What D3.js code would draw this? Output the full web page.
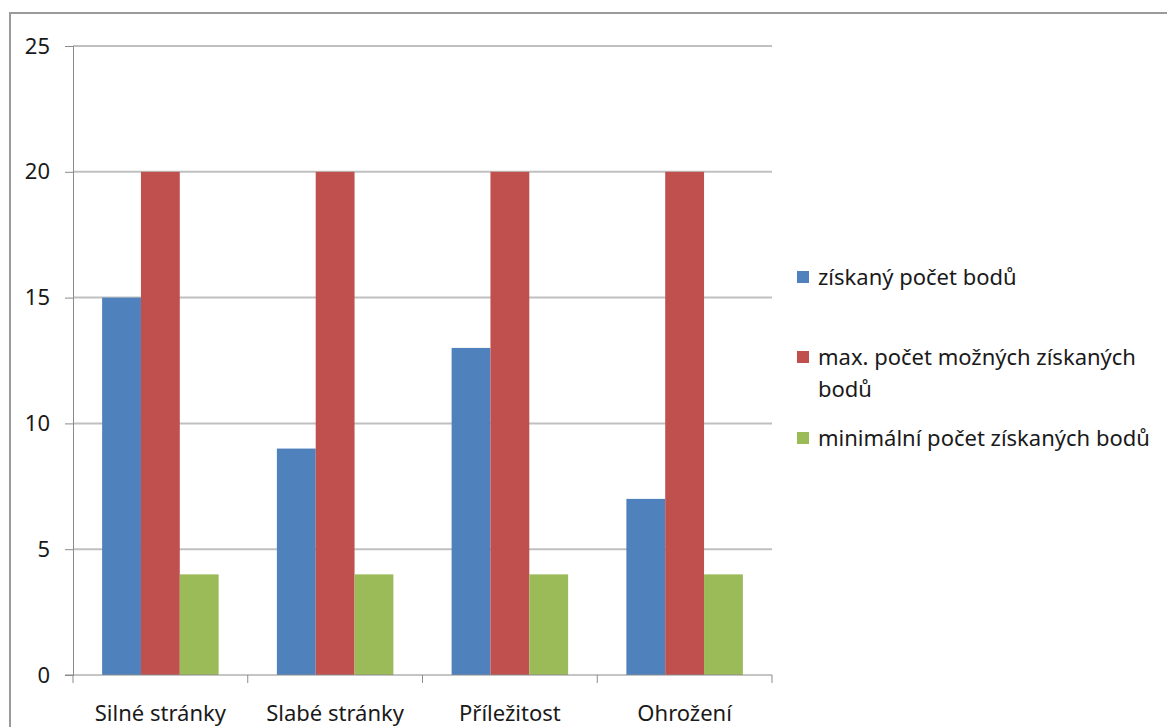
<!DOCTYPE html>
<html lang="cs">
<head>
<meta charset="utf-8">
<script src="https://cdn.jsdelivr.net/npm/d3@7"></script>
<style>
  html, body { margin: 0; padding: 0; background: #fff; }
  svg { display: block; }
  text { font-family: "Noto Sans", "Open Sans", sans-serif; fill: #1a1a1a; }
</style>
</head>
<body>
<svg id="chart" width="1167" height="727"></svg>
<script>
// Kategorie SWOT analýzy
const categories = ["Silné stránky", "Slabé stránky", "Příležitost", "Ohrožení"];

// Hodnoty jednotlivých řad
const ziskanyPocet = [15, 9, 13, 7];
const maxPocet = [20, 20, 20, 20];
const minPocet = [4, 4, 4, 4];

const seriesNames = [
  "získaný počet bodů",
  "max. počet možných získaných bodů",
  "minimální počet získaných bodů"
];
// Zalomení delšího popisku legendy do řádků
const legendLines = [
  ["získaný počet bodů"],
  ["max. počet možných získaných", "bodů"],
  ["minimální počet získaných bodů"]
];
const seriesColors = ["#4F81BD", "#C0504D", "#9BBB59"];
const yTicks = [0, 5, 10, 15, 20, 25];

const series = [ziskanyPocet, maxPocet, minPocet];

const svg = d3.select("#chart");

// Rámeček celého grafu
svg.append("rect")
  .attr("x", 10).attr("y", 13)
  .attr("width", 1300).attr("height", 900)
  .attr("fill", "#fff")
  .attr("stroke", "#9a9a9a")
  .attr("stroke-width", 2);

const plot = { left: 73, right: 772, top: 46, bottom: 675 };

const x0 = d3.scaleBand()
  .domain(categories)
  .range([plot.left, plot.right])
  .paddingInner(0)
  .paddingOuter(0);

// Excel-like gap width 150 %: bars fill 3 / 4.5 of each category
const x1 = d3.scaleBand()
  .domain(d3.range(series.length))
  .range([0, x0.bandwidth()])
  .paddingInner(0)
  .paddingOuter(0.75);

const y = d3.scaleLinear()
  .domain([0, 25])
  .range([plot.bottom, plot.top]);

// Vodorovné mřížky
svg.append("g")
  .selectAll("line")
  .data(yTicks.filter(d => d > 0))
  .join("line")
  .attr("x1", plot.left).attr("x2", plot.right)
  .attr("y1", d => y(d)).attr("y2", d => y(d))
  .attr("stroke", "#c0c0c0")
  .attr("stroke-width", 2);

// Osa Y
const yAxis = svg.append("g")
  .attr("transform", `translate(${plot.left},0)`)
  .call(d3.axisLeft(y).tickValues(yTicks).tickSize(8).tickPadding(15).tickFormat(d3.format("d")));
yAxis.select(".domain").attr("stroke", "#8a8a8a");
yAxis.selectAll(".tick line").attr("stroke", "#8a8a8a");
yAxis.selectAll(".tick text")
  .attr("font-size", 22)
  .attr("font-family", "\"Noto Sans\", sans-serif")
  .attr("fill", "#1a1a1a");

// Sloupce
const groups = svg.append("g")
  .selectAll("g")
  .data(categories)
  .join("g")
  .attr("transform", d => `translate(${x0(d)},0)`);

groups.selectAll("rect")
  .data((c, i) => series.map((s, k) => ({ k, v: s[i] })))
  .join("rect")
  .attr("x", d => x1(d.k))
  .attr("width", x1.bandwidth())
  .attr("y", d => y(d.v))
  .attr("height", d => y(0) - y(d.v))
  .attr("fill", d => seriesColors[d.k]);

// Osa X
const xAxis = svg.append("g")
  .attr("transform", `translate(0,${plot.bottom})`)
  .call(d3.axisBottom(x0).tickSize(0).tickPadding(30));
xAxis.select(".domain").remove();
xAxis.selectAll(".tick text")
  .attr("font-size", 22)
  .attr("font-family", "\"Noto Sans\", sans-serif")
  .attr("fill", "#1a1a1a");

svg.append("line")
  .attr("x1", plot.left - 8).attr("x2", plot.right)
  .attr("y1", plot.bottom).attr("y2", plot.bottom)
  .attr("stroke", "#8a8a8a");

const bounds = categories.map(c => x0(c)).concat([plot.right]);
svg.append("g")
  .selectAll("line")
  .data(bounds)
  .join("line")
  .attr("x1", d => d).attr("x2", d => d)
  .attr("y1", plot.bottom).attr("y2", plot.bottom + 8)
  .attr("stroke", "#8a8a8a");

// Legenda
const legendY = [277, 357, 438];
const legend = svg.append("g");
seriesNames.forEach((name, i) => {
  const g = legend.append("g").attr("transform", `translate(797,${legendY[i]})`);
  g.append("rect")
    .attr("x", 0).attr("y", -6)
    .attr("width", 12).attr("height", 12)
    .attr("fill", seriesColors[i]);
  legendLines[i].forEach((line, j) => {
    g.append("text")
      .attr("x", 21)
      .attr("y", j * 32)
      .attr("dy", "0.35em")
      .attr("font-size", 22)
      .text(line);
  });
});
</script>
</body>
</html>
